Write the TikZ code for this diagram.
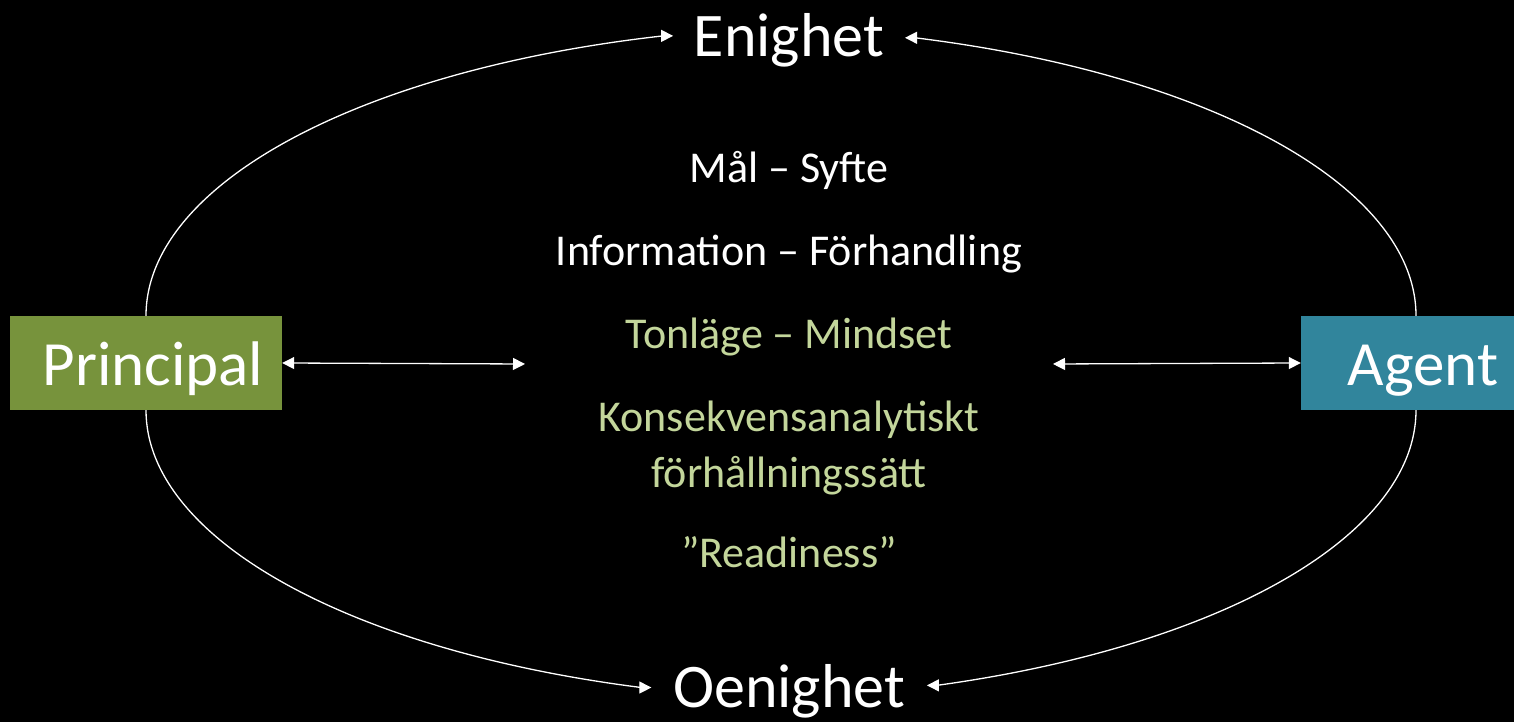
\documentclass[tikz,border=0pt]{standalone}
\usepackage{fontspec}
\setmainfont{Carlito}
\usetikzlibrary{arrows.meta}

\definecolor{principalgreen}{HTML}{77933C}
\definecolor{agentteal}{HTML}{31859C}
\definecolor{lightgreen}{HTML}{C3D69B}

\tikzset{
    tip/.tip={Triangle[length=12pt,width=12pt]},
    bigword/.style={anchor=base, inner sep=0pt, text=white,
        font=\fontsize{62}{62}\selectfont},
    midword/.style={anchor=base, inner sep=0pt,
        font=\fontsize{44}{44}\selectfont},
    rolebox/.style={minimum width=#1, minimum height=94pt, inner sep=0pt,
        text height=50pt, text depth=4pt, text=white,
        execute at begin node=\hspace*{14pt},
        font=\fontsize{63}{63}\selectfont},
    loop line/.style={draw=white, line width=1.3pt, -tip},
    both line/.style={draw=white, line width=1.3pt, tip-tip}
}

\begin{document}
\begin{tikzpicture}[x=1pt, y=1pt]
    \fill[black] (0,0) rectangle (1514,722);
    \useasboundingbox (0,0) rectangle (1514,722);
    \begin{scope} % Parties
        \node[rolebox=272pt, fill=principalgreen] (principal) at (146,359) {Principal};
        \node[rolebox=230pt, fill=agentteal] (agent) at (1416,359) {Agent};
    \end{scope}
    \begin{scope} % Outcomes
        \node[bigword] (enighet) at (789,665) {Enighet};
        \node[bigword] (oenighet) at (789,14) {Oenighet};
    \end{scope}
    \begin{scope} % Factors in the middle
        \foreach \name/\yy/\col/\txt in {
                mal/539/white/{Mål – Syfte},
                info/456/white/{Information – Förhandling},
                ton/373/lightgreen/{Tonläge – Mindset},
                konsek/290/lightgreen/{Konsekvensanalytiskt},
                forhall/234/lightgreen/{förhållningssätt},
                ready/154/lightgreen/{”Readiness”}}
            \node[midword, text=\col] (\name) at (789,\yy) {\txt};
    \end{scope}
    \begin{scope} % Arcs to the outcomes
        \draw[loop line] (principal.north)
            arc[start angle=180, end angle=105.15, x radius=700pt, y radius=290pt]
            -- ++(10,0);
        \draw[loop line] (agent.north)
            arc[start angle=0, end angle=73.48, x radius=700pt, y radius=290pt]
            -- ++(-10,0);
        \draw[loop line] (principal.south)
            arc[start angle=180, end angle=253.0, x radius=700pt, y radius=290pt]
            -- ++(10,0);
        \draw[loop line] (agent.south)
            arc[start angle=0, end angle=-71.6, x radius=700pt, y radius=290pt]
            -- ++(-10,0);
    \end{scope}
    \begin{scope} % Two-way links
        \coordinate (linkleft) at (525,358);
        \coordinate (linkright) at (1053,358);
        \draw[both line] (principal.east) -- (linkleft);
        \draw[both line] (linkright) -- (agent.west);
    \end{scope}
\end{tikzpicture}
\end{document}
